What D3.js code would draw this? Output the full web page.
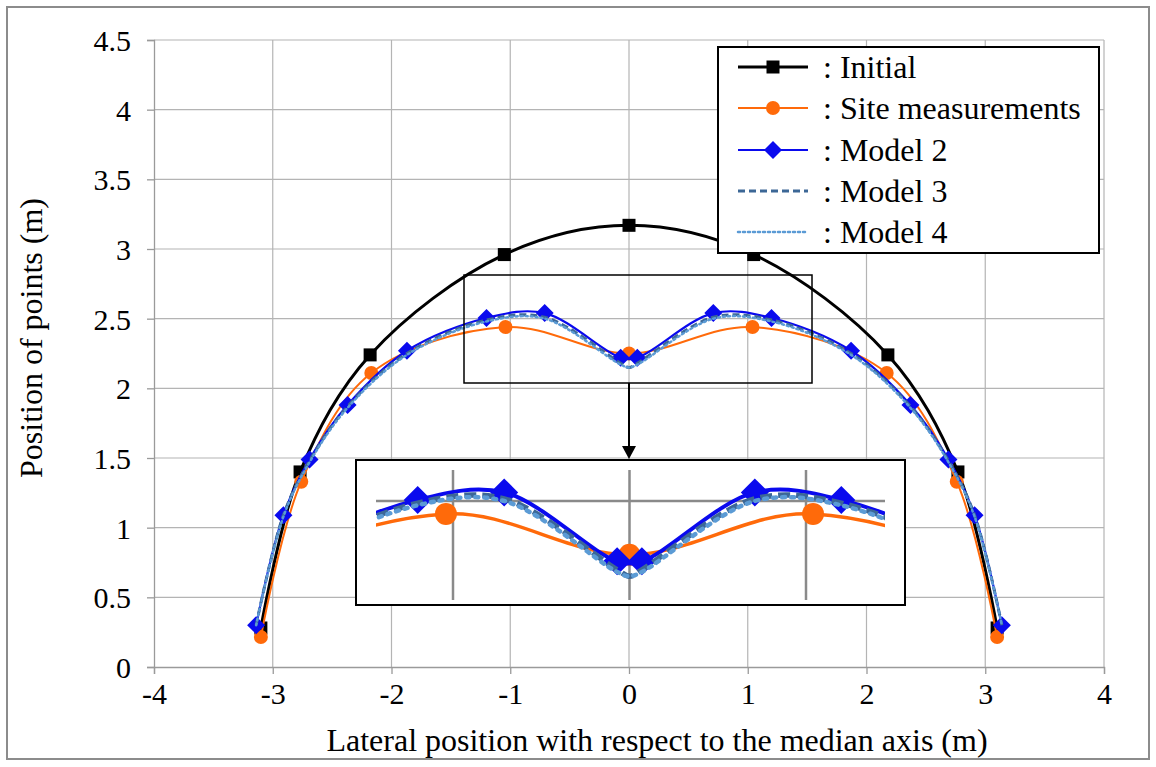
<!DOCTYPE html>
<html><head><meta charset="utf-8">
<script src="https://cdn.jsdelivr.net/npm/d3@7"></script>
<style>
html,body{margin:0;padding:0;background:#fff;}
svg text{font-family:"Liberation Serif","Times New Roman",Times,"DejaVu Serif",serif;fill:#000;}
</style></head>
<body><svg id="c" width="1156" height="767"></svg>
<script>
// ---- data ----
const xTicks = [-4,-3,-2,-1,0,1,2,3,4];
const yTicks = [0,0.5,1,1.5,2,2.5,3,3.5,4,4.5];
const initialX = [-3.1,-2.77,-2.18,-1.05,0,1.05,2.18,2.77,3.1];
const initialY = [0.28,1.40,2.24,2.96,3.17,2.96,2.24,1.40,0.28];
const siteX = [-3.1,-2.76,-2.17,-1.04,0,1.04,2.17,2.76,3.1];
const siteY = [0.215,1.33,2.11,2.44,2.25,2.44,2.11,1.33,0.215];
const model2X = [-3.14,-2.91,-2.69,-2.37,-1.87,-1.2,-0.71,-0.07,0.07,0.71,1.2,1.87,2.37,2.69,2.91,3.14];
const model2Y = [0.30,1.09,1.49,1.88,2.27,2.505,2.54,2.22,2.22,2.54,2.505,2.27,1.88,1.49,1.09,0.30];
const model34X = [-3.14,-2.91,-2.69,-2.37,-1.87,-1.2,-0.71,-0.07,0,0.07,0.71,1.2,1.87,2.37,2.69,2.91,3.14];
const model3Y = [0.30,1.09,1.48,1.87,2.25,2.49,2.51,2.18,2.15,2.18,2.51,2.49,2.25,1.87,1.48,1.09,0.30];
const model4Y = [0.30,1.08,1.47,1.86,2.24,2.48,2.50,2.17,2.15,2.17,2.50,2.48,2.24,1.86,1.47,1.08,0.30];
const legendLabels = [": Initial",": Site measurements",": Model 2",": Model 3",": Model 4"];
const insetXTicks = [-1,0,1];
const insetYTicks = [2.5];

const FONT = '"Liberation Serif","Times New Roman",Times,"DejaVu Serif",serif';
const zip = (xs,ys)=>xs.map((v,i)=>[v,ys[i]]);
const series = [
  {name:legendLabels[0], pts:zip(initialX,initialY), color:"#000000", w:3, wi:4, dash:null, marker:"square"},
  {name:legendLabels[1], pts:zip(siteX,siteY), color:"#ff6a0a", w:2, wi:3.5, dash:null, marker:"circle"},
  {name:legendLabels[2], pts:zip(model2X,model2Y), color:"#0a0aee", w:2.2, wi:4, dash:null, marker:"diamond"},
  {name:legendLabels[3], pts:zip(model34X,model3Y), color:"#3c6796", w:3, wi:5.5, dash:"7,4", dashi:"12,6", marker:null},
  {name:legendLabels[4], pts:zip(model34X,model4Y), color:"#5b9bd5", w:2.5, wi:4.5, dash:"2,3", dashi:"3,6", marker:null}
];

const svg = d3.select("#c").attr("font-family",FONT);
svg.append("rect").attr("x",7).attr("y",7).attr("width",1142).attr("height",752)
  .attr("fill","#fff").attr("stroke","#8c8c8c").attr("stroke-width",2);

const x = d3.scaleLinear([-4,4],[154,1104]);
const y = d3.scaleLinear([0,4.5],[667,40]);

// grid
const grid = svg.append("g");
grid.selectAll("line.v").data(xTicks.filter(d=>d!==-4)).join("line")
  .attr("x1",d=>x(d)).attr("x2",d=>x(d)).attr("y1",y(4.5)).attr("y2",y(0))
  .attr("stroke","#b4b4b4").attr("stroke-width",1.2);
grid.selectAll("line.h").data(yTicks.filter(d=>d!==0)).join("line")
  .attr("x1",x(-4)).attr("x2",x(4)).attr("y1",d=>y(d)).attr("y2",d=>y(d))
  .attr("stroke","#b4b4b4").attr("stroke-width",1.2);

// axes
const fmt = d=>String(d);
const gx = svg.append("g").attr("transform",`translate(0,${y(0)})`)
  .call(d3.axisBottom(x).tickValues(xTicks).tickFormat(fmt).tickSize(7).tickPadding(9));
const gy = svg.append("g").attr("transform",`translate(${x(-4)},0)`)
  .call(d3.axisLeft(y).tickValues(yTicks).tickFormat(fmt).tickSize(7).tickPadding(16));
[gx,gy].forEach(g=>{
  g.attr("font-family",null).attr("font-size",null);
  g.select(".domain").attr("stroke","#9a9a9a").attr("stroke-width",1.3);
  g.selectAll(".tick line").attr("stroke","#9a9a9a").attr("stroke-width",1.3);
  g.selectAll("text").attr("fill","#000").attr("font-family",FONT).attr("font-size",30)
    .style("font-family",FONT).style("font-size","30px");
});
gy.selectAll("text").attr("dy","0.35em");

svg.append("text").attr("x",657).attr("y",751).attr("text-anchor","middle")
  .attr("font-size",32).text("Lateral position with respect to the median axis (m)");
svg.append("text").attr("transform",`translate(42,338) rotate(-90)`)
  .attr("text-anchor","middle").attr("font-size",32).text("Position of points (m)");

const line = (sx,sy)=>d3.line().x(d=>sx(d[0])).y(d=>sy(d[1])).curve(d3.curveCatmullRom.alpha(0.5));

function drawMarker(g, m, cx, cy, s, color){
  if(m==="square") g.append("rect").attr("x",cx-s).attr("y",cy-s).attr("width",2*s).attr("height",2*s).attr("fill",color);
  else if(m==="circle") g.append("circle").attr("cx",cx).attr("cy",cy).attr("r",s).attr("fill",color);
  else if(m==="diamond") g.append("path").attr("d",`M${cx},${cy-s}L${cx+s},${cy}L${cx},${cy+s}L${cx-s},${cy}Z`).attr("fill",color);
}
const msize = {square:6.5, circle:7, diamond:9};
const msizeInset = {square:9, circle:11, diamond:14};

// main series
const plot = svg.append("g");
series.forEach(s=>{
  const p = plot.append("path").datum(s.pts).attr("d",line(x,y)).attr("fill","none")
    .attr("stroke",s.color).attr("stroke-width",s.w).attr("stroke-linecap",s.dash==="2,3"?"round":"butt");
  if(s.dash) p.attr("stroke-dasharray",s.dash);
  if(s.marker) s.pts.forEach(d=>drawMarker(plot,s.marker,x(d[0]),y(d[1]),msize[s.marker],s.color));
});

// zoom rectangle and arrow
svg.append("rect").attr("x",464).attr("y",275).attr("width",348).attr("height",108)
  .attr("fill","none").attr("stroke","#000").attr("stroke-width",1.5);
svg.append("line").attr("x1",x(0)).attr("x2",x(0)).attr("y1",383).attr("y2",449)
  .attr("stroke","#000").attr("stroke-width",2);
svg.append("path").attr("d",`M${x(0)-7},446L${x(0)+7},446L${x(0)},459Z`).attr("fill","#000");

// inset
const inset = svg.append("g");
inset.append("rect").attr("x",356).attr("y",460).attr("width",549).attr("height",145)
  .attr("fill","#fff").attr("stroke","#000").attr("stroke-width",2);
const xi = d3.scaleLinear([-1,1],[453,806]);
const yi = d3.scaleLinear([2.5,2.2],[501,565.5]);
svg.append("clipPath").attr("id","ic").append("rect").attr("x",376).attr("y",462).attr("width",509).attr("height",141);
const ig = inset.append("g");
ig.selectAll("line.v").data(insetXTicks).join("line")
  .attr("x1",d=>xi(d)).attr("x2",d=>xi(d)).attr("y1",470).attr("y2",600)
  .attr("stroke","#8a8a8a").attr("stroke-width",2.5);
ig.selectAll("line.h").data(insetYTicks).join("line")
  .attr("x1",376).attr("x2",885).attr("y1",d=>yi(d)).attr("y2",d=>yi(d))
  .attr("stroke","#8a8a8a").attr("stroke-width",2.5);
const ic = inset.append("g").attr("clip-path","url(#ic)");
series.slice(1).forEach(s=>{
  const p = ic.append("path").datum(s.pts).attr("d",line(xi,yi)).attr("fill","none")
    .attr("stroke",s.color).attr("stroke-width",s.wi).attr("stroke-linecap",s.dash==="2,3"?"round":"butt");
  if(s.dashi) p.attr("stroke-dasharray",s.dashi);
  if(s.marker) s.pts.filter(d=>xi(d[0])>376 && xi(d[0])<885)
    .forEach(d=>drawMarker(ic,s.marker,xi(d[0]),yi(d[1]),msizeInset[s.marker],s.color));
});

// legend
const lg = svg.append("g");
lg.append("rect").attr("x",718).attr("y",47).attr("width",381).attr("height",206)
  .attr("fill","#fff").attr("stroke","#000").attr("stroke-width",2);
const rowY = [67,108,150,191,232];
series.forEach((s,i)=>{
  const ly = rowY[i];
  const l = lg.append("line").attr("x1",738).attr("x2",808).attr("y1",ly).attr("y2",ly)
    .attr("stroke",s.color).attr("stroke-width",s.w).attr("stroke-linecap",s.dash==="2,3"?"round":"butt");
  if(s.dash) l.attr("stroke-dasharray",s.dash);
  if(s.marker) drawMarker(lg,s.marker,773,ly,msize[s.marker],s.color);
  lg.append("text").attr("x",823).attr("y",ly).attr("dy","0.35em").attr("font-size",32).text(s.name);
});
</script></body></html>
